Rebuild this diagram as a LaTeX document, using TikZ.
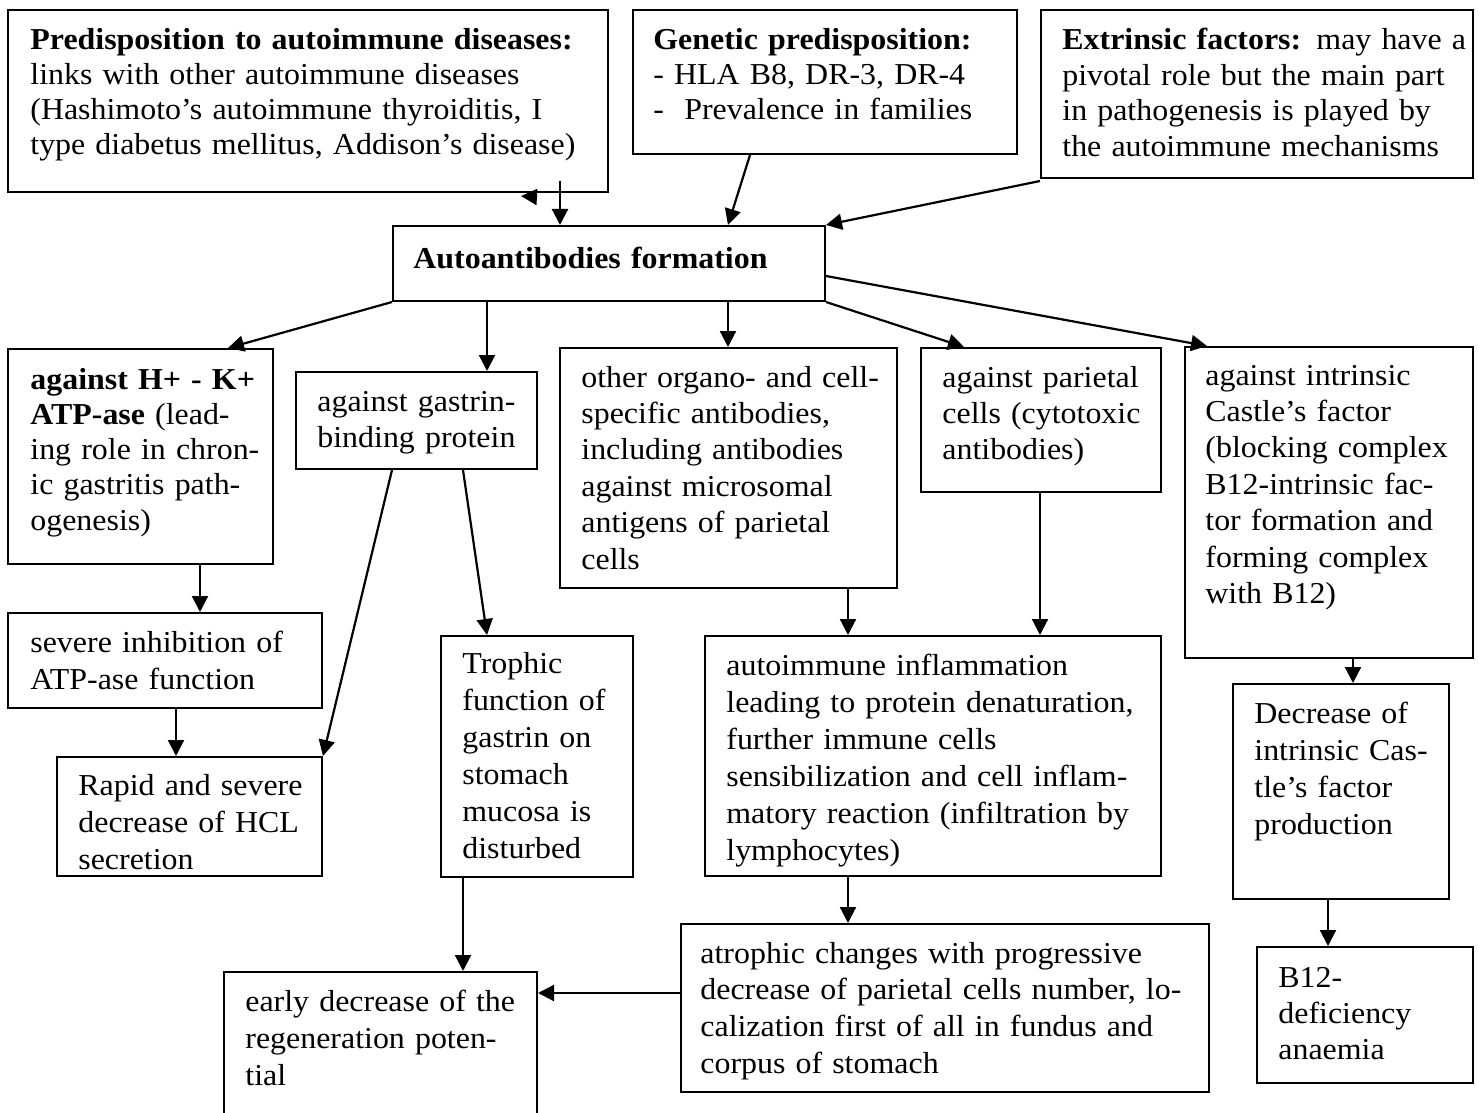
\documentclass[tikz,border=0pt]{standalone}
\usepackage{fontspec}
\setmainfont{Liberation Serif}[FakeStretch=1.05]
\usetikzlibrary{arrows.meta,calc,fit}
\begin{document}
\begin{tikzpicture}[x=0.5pt,y=-0.5pt,
  box/.style={draw, line width=1pt, inner sep=0pt, rectangle},
  txt/.style={anchor=base west, inner sep=0pt, align=left, font=\fontsize{15.2pt}{#1}\selectfont},
  arr/.style={line width=1.1pt, -{Triangle[length=8pt,width=8pt]}}]
\fill[white, use as bounding box] (0,0) rectangle (1479,1113);

% boxes
\node[box, fit={(8,10)(608,192)}] (A) {};
\node[box, fit={(633,10)(1017,154)}] (B) {};
\node[box, fit={(1041,10)(1473,178)}] (C) {};
\node[box, fit={(393,226)(825,301)}] (D) {};
\node[box, fit={(8,349)(273,564)}] (E) {};
\node[box, fit={(296,372)(537,469)}] (F) {};
\node[box, fit={(8,613)(322,708)}] (G) {};
\node[box, fit={(57,757)(322,876)}] (H) {};
\node[box, fit={(441,636)(633,877)}] (I) {};
\node[box, fit={(224,972)(537,1125)}] (J) {};
\node[box, fit={(681,924)(1209,1092)}] (K) {};
\node[box, fit={(705,636)(1161,876)}] (L) {};
\node[box, fit={(560,348)(897,588)}] (M) {};
\node[box, fit={(921,348)(1161,492)}] (N) {};
\node[box, fit={(1185,347)(1473,658)}] (O) {};
\node[box, fit={(1233,684)(1449,899)}] (P) {};
\node[box, fit={(1257,947)(1473,1083)}] (Q) {};

% texts
\node[txt=17.5pt, text width=319pt] (At) at (30,50) {\textbf{Predisposition to autoimmune diseases:}\\links with other autoimmune diseases\\(Hashimoto’s autoimmune thyroiditis, I\\type diabetus mellitus, Addison’s disease)};
\node[txt=17.5pt, text width=212pt] (Bt) at (653,50) {\textbf{Genetic predisposition:}\\- HLA B8, DR-3, DR-4\\-\ \ Prevalence in families};
\node[txt=17.75pt, text width=236pt] (Ct) at (1062,50) {\textbf{Extrinsic factors:} may have a\\pivotal role but the main part\\in pathogenesis is played by\\the autoimmune mechanisms};
\node[txt=17.5pt, text width=236pt] (Dt) at (413,268) {\textbf{Autoantibodies formation}};
\node[txt=17.65pt, text width=152pt] (Et) at (30,389) {\textbf{against H+ - K+}\\\textbf{ATP-ase} (lead-\\ing role in chron-\\ic gastritis path-\\ogenesis)};
\node[txt=18pt, text width=140pt] (Ft) at (317,411) {against gastrin-\\binding protein};
\node[txt=18.5pt, text width=176pt] (Gt) at (30,652) {severe inhibition of\\ATP-ase function};
\node[txt=18.5pt, text width=152pt] (Ht) at (78,795) {Rapid and severe\\decrease of HCL\\secretion};
\node[txt=18.5pt, text width=116pt] (It) at (462,673) {Trophic\\function of\\gastrin on\\stomach\\mucosa is\\disturbed};
\node[txt=18.5pt, text width=176pt] (Jt) at (245,1011) {early decrease of the\\regeneration poten-\\tial};
\node[txt=18.35pt, text width=285pt] (Kt) at (700,963) {atrophic changes with progressive\\decrease of parietal cells number, lo-\\calization first of all in fundus and\\corpus of stomach};
\node[txt=18.55pt, text width=248pt] (Lt) at (726,675) {autoimmune inflammation\\leading to protein denaturation,\\further immune cells\\sensibilization and cell inflam-\\matory reaction (infiltration by\\lymphocytes)};
\node[txt=18.2pt, text width=188pt] (Mt) at (581,387) {other organo- and cell-\\specific antibodies,\\including antibodies\\against microsomal\\antigens of parietal\\cells};
\node[txt=18.2pt, text width=140pt] (Nt) at (942,387) {against parietal\\cells (cytotoxic\\antibodies)};
\node[txt=18.2pt, text width=164pt] (Ot) at (1205,385) {against intrinsic\\Castle’s factor\\(blocking complex\\B12-intrinsic fac-\\tor formation and\\forming complex\\with B12)};
\node[txt=18.6pt, text width=128pt] (Pt) at (1254,723) {Decrease of\\intrinsic Cas-\\tle’s factor\\production};
\node[txt=18.15pt, text width=128pt] (Qt) at (1278,987) {B12-\\deficiency\\anaemia};

% connectors
\coordinate (a1) at ($(A.south west)+(553,-12)$);
\draw[arr] (a1) -- (a1 |- D.north);
\coordinate (s1) at ($(A.south west)+(530,4)$);
\coordinate (s2) at ($(A.south west)+(514,3)$);
\draw[arr] (s1) -- (s2);
\draw[arr] ($(B.south west)+(118,0)$) -- ($(D.north west)+(336,0)$);
\draw[arr] ($(C.south west)+(0,2)$) -- (D.north east);
\draw[arr] (D.south west) -- ($(E.north west)+(221,0)$);
\coordinate (d1) at ($(D.south west)+(95,0)$);
\draw[arr] (d1) -- (d1 |- F.north);
\coordinate (d2) at ($(D.south west)+(336,0)$);
\draw[arr] (d2) -- (d2 |- M.north);
\draw[arr] (D.south east) -- ($(N.north west)+(44,0)$);
\draw[arr] ($(D.north east)+(0,51)$) -- ($(O.north west)+(23,0)$);
\coordinate (e1) at ($(E.south west)+(193,0)$);
\draw[arr] (e1) -- (e1 |- G.north);
\coordinate (g1) at ($(G.south west)+(169,0)$);
\draw[arr] (g1) -- (g1 |- H.north);
\draw[arr] ($(F.south west)+(97,0)$) -- (H.north east);
\draw[arr] ($(F.south west)+(168,0)$) -- ($(I.north west)+(47,0)$);
\coordinate (i1) at ($(I.south west)+(23,0)$);
\draw[arr] (i1) -- (i1 |- J.north);
\coordinate (m1) at ($(M.south west)+(289,0)$);
\draw[arr] (m1) -- (m1 |- L.north);
\coordinate (n1) at ($(N.south west)+(120,0)$);
\draw[arr] (n1) -- (n1 |- L.north);
\coordinate (l1) at ($(L.south west)+(144,0)$);
\draw[arr] (l1) -- (l1 |- K.north);
\coordinate (k1) at ($(K.north west)+(0,70)$);
\draw[arr] (k1) -- (k1 -| J.east);
\coordinate (o1) at ($(O.south west)+(169,0)$);
\draw[arr] (o1) -- (o1 |- P.north);
\coordinate (p1) at ($(P.south west)+(96,0)$);
\draw[arr] (p1) -- (p1 |- Q.north);
\end{tikzpicture}
\end{document}
